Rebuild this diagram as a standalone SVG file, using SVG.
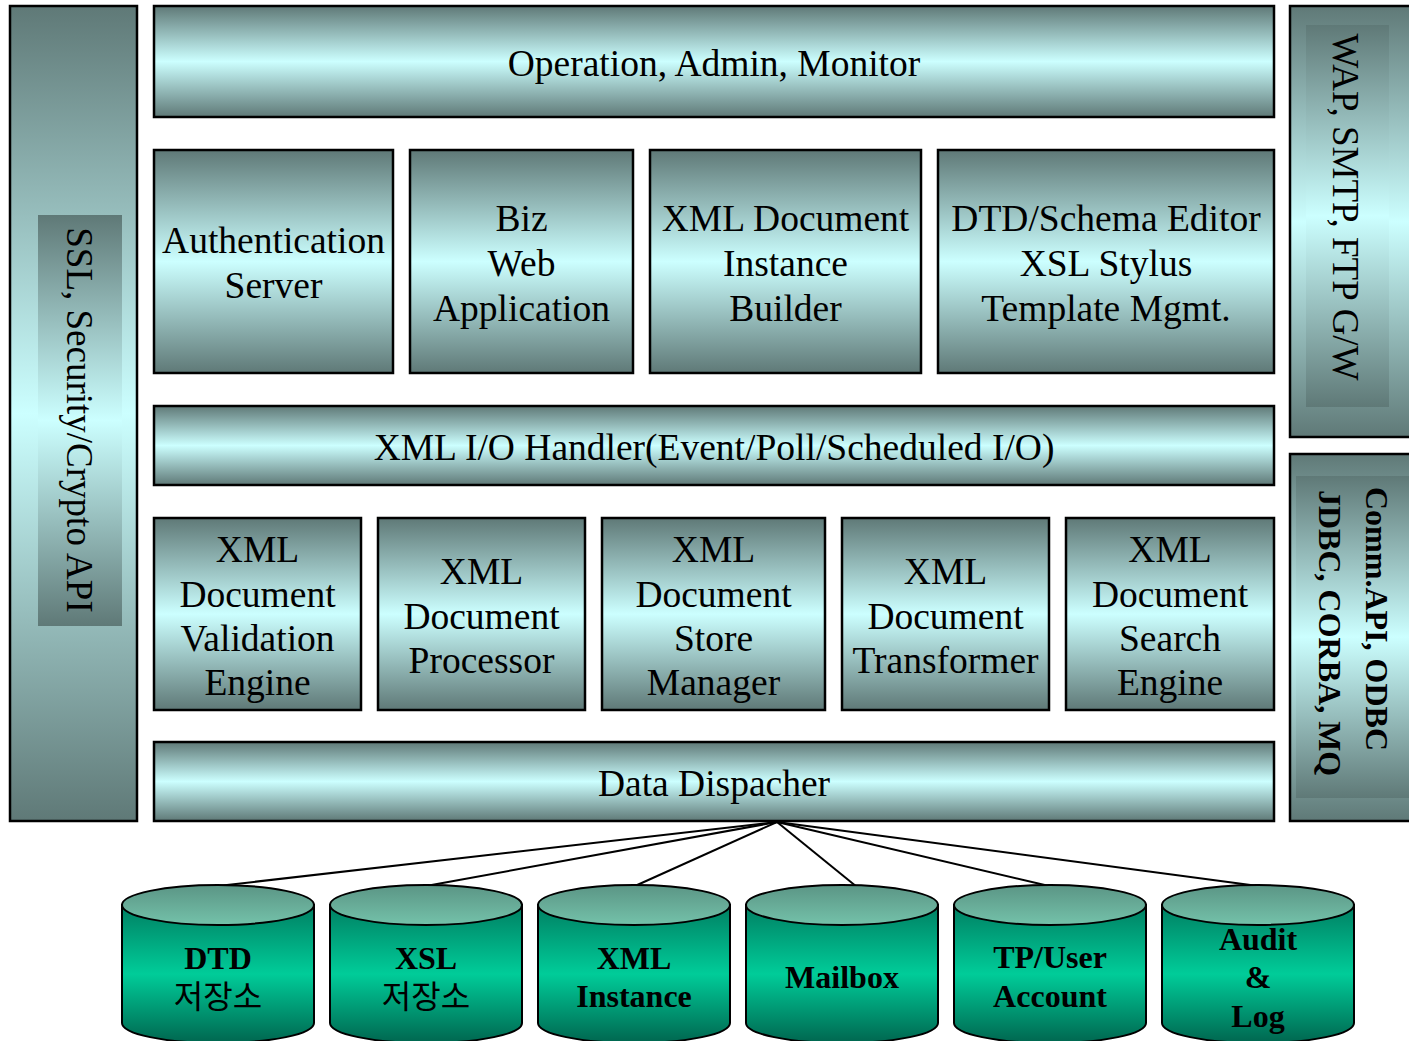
<svg xmlns="http://www.w3.org/2000/svg" width="1409" height="1041" viewBox="0 0 1409 1041">
<defs>
<linearGradient id="g" x1="0" y1="0" x2="0" y2="1">
<stop offset="0" stop-color="#5f7977"/>
<stop offset="0.5" stop-color="#ccffff"/>
<stop offset="1" stop-color="#5f7977"/>
</linearGradient>
<linearGradient id="cb" x1="0" y1="0" x2="0" y2="1">
<stop offset="0" stop-color="#007f62"/>
<stop offset="0.5" stop-color="#00cc99"/>
<stop offset="1" stop-color="#00664f"/>
</linearGradient>
<linearGradient id="ct" x1="0" y1="0" x2="0" y2="1">
<stop offset="0" stop-color="#5b9585"/>
<stop offset="1" stop-color="#74c2aa"/>
</linearGradient>
</defs>
<style>
.box{fill:url(#g);stroke:#000;stroke-width:2.5}
.inner{fill:url(#g);stroke:none}
.t{font-family:"Liberation Serif","Times New Roman",serif;font-size:37.5px;fill:#000;text-anchor:middle}
.cb{fill:url(#cb);stroke:#000;stroke-width:2}
.ct{fill:url(#ct);stroke:#000;stroke-width:2}
.ctx{font-family:"Liberation Serif","Times New Roman",serif;font-size:32px;font-weight:bold;fill:#000;text-anchor:middle}
.kr{font-family:"Noto Sans CJK KR",sans-serif;font-size:32px;font-weight:normal;fill:#000;text-anchor:middle}
.conn line{stroke:#000;stroke-width:2}
</style>
<rect width="1409" height="1041" fill="#fff"/>

<g id="connectors" class="conn">
<line x1="777" y1="822" x2="218" y2="886"/>
<line x1="777" y1="822" x2="426" y2="886"/>
<line x1="777" y1="822" x2="635" y2="886"/>
<line x1="777" y1="822" x2="857" y2="887"/>
<line x1="777" y1="822" x2="1049" y2="886"/>
<line x1="777" y1="822" x2="1258" y2="886"/>
</g>

<g id="ssl">
<rect class="box" x="10" y="6" width="127" height="815"/>
<rect class="inner" x="38" y="215" width="84" height="411"/>
<text class="t" style="font-size:37px" transform="translate(67,420) rotate(90)">SSL, Security/Crypto API</text>
</g>

<g id="operation">
<rect class="box" x="154" y="6" width="1120" height="111"/>
<text class="t" x="714" y="76">Operation, Admin, Monitor</text>
</g>

<g id="auth">
<rect class="box" x="154" y="150" width="239" height="223"/>
<text class="t" x="273.5" y="253">Authentication</text>
<text class="t" x="273.5" y="298">Server</text>
</g>

<g id="biz">
<rect class="box" x="410" y="150" width="223" height="223"/>
<text class="t" x="521.5" y="231">Biz</text>
<text class="t" x="521.5" y="276">Web</text>
<text class="t" x="521.5" y="321">Application</text>
</g>

<g id="builder">
<rect class="box" x="650" y="150" width="271" height="223"/>
<text class="t" x="785.5" y="231">XML Document</text>
<text class="t" x="785.5" y="276">Instance</text>
<text class="t" x="785.5" y="321">Builder</text>
</g>

<g id="editor">
<rect class="box" x="938" y="150" width="336" height="223"/>
<text class="t" x="1106" y="231">DTD/Schema Editor</text>
<text class="t" x="1106" y="276">XSL Stylus</text>
<text class="t" x="1106" y="321">Template Mgmt.</text>
</g>

<g id="iohandler">
<rect class="box" x="154" y="406" width="1120" height="79"/>
<text class="t" x="714" y="460">XML I/O Handler(Event/Poll/Scheduled I/O)</text>
</g>

<g id="validation">
<rect class="box" x="154" y="518" width="207" height="192"/>
<text class="t" x="257.5" y="562">XML</text>
<text class="t" x="257.5" y="607">Document</text>
<text class="t" x="257.5" y="651">Validation</text>
<text class="t" x="257.5" y="695">Engine</text>
</g>

<g id="processor">
<rect class="box" x="378" y="518" width="207" height="192"/>
<text class="t" x="481.5" y="584">XML</text>
<text class="t" x="481.5" y="629">Document</text>
<text class="t" x="481.5" y="673">Processor</text>
</g>

<g id="store">
<rect class="box" x="602" y="518" width="223" height="192"/>
<text class="t" x="713.5" y="562">XML</text>
<text class="t" x="713.5" y="607">Document</text>
<text class="t" x="713.5" y="651">Store</text>
<text class="t" x="713.5" y="695">Manager</text>
</g>

<g id="transformer">
<rect class="box" x="842" y="518" width="207" height="192"/>
<text class="t" x="945.5" y="584">XML</text>
<text class="t" x="945.5" y="629">Document</text>
<text class="t" x="945.5" y="673">Transformer</text>
</g>

<g id="search">
<rect class="box" x="1066" y="518" width="208" height="192"/>
<text class="t" x="1170" y="562">XML</text>
<text class="t" x="1170" y="607">Document</text>
<text class="t" x="1170" y="651">Search</text>
<text class="t" x="1170" y="695">Engine</text>
</g>

<g id="dispatcher">
<rect class="box" x="154" y="742" width="1120" height="79"/>
<text class="t" x="714" y="796">Data Dispacher</text>
</g>

<g id="wap">
<rect class="box" x="1290" y="6" width="130" height="431"/>
<rect class="inner" x="1306" y="25" width="83" height="382"/>
<text class="t" style="font-size:37px" transform="translate(1333,207) rotate(90)">WAP, SMTP, FTP G/W</text>
</g>

<g id="comm">
<rect class="box" x="1290" y="454" width="130" height="367"/>
<rect class="inner" x="1296" y="476" width="120" height="322"/>
<text class="t" style="font-size:32px;font-weight:bold;text-anchor:start" transform="translate(1366,487) rotate(90)">Comm.API, ODBC</text>
<text class="t" style="font-size:32px;font-weight:bold;text-anchor:start" transform="translate(1319,490) rotate(90)">JDBC, CORBA, MQ</text>
</g>

<g id="db-dtd">
<path class="cb" d="M122,905 L122,1023 A96,20 0 0 0 314,1023 L314,905 Z"/>
<ellipse class="ct" cx="218" cy="905" rx="96" ry="20"/>
<text class="ctx" x="218" y="969">DTD</text>
<text class="kr" x="218" y="1008">저장소</text>
</g>

<g id="db-xsl">
<path class="cb" d="M330,905 L330,1023 A96,20 0 0 0 522,1023 L522,905 Z"/>
<ellipse class="ct" cx="426" cy="905" rx="96" ry="20"/>
<text class="ctx" x="426" y="969">XSL</text>
<text class="kr" x="426" y="1008">저장소</text>
</g>

<g id="db-xml">
<path class="cb" d="M538,905 L538,1023 A96,20 0 0 0 730,1023 L730,905 Z"/>
<ellipse class="ct" cx="634" cy="905" rx="96" ry="20"/>
<text class="ctx" x="634" y="969">XML</text>
<text class="ctx" x="634" y="1007">Instance</text>
</g>

<g id="db-mailbox">
<path class="cb" d="M746,905 L746,1023 A96,20 0 0 0 938,1023 L938,905 Z"/>
<ellipse class="ct" cx="842" cy="905" rx="96" ry="20"/>
<text class="ctx" x="842" y="988">Mailbox</text>
</g>

<g id="db-account">
<path class="cb" d="M954,905 L954,1023 A96,20 0 0 0 1146,1023 L1146,905 Z"/>
<ellipse class="ct" cx="1050" cy="905" rx="96" ry="20"/>
<text class="ctx" x="1050" y="968">TP/User</text>
<text class="ctx" x="1050" y="1007">Account</text>
</g>

<g id="db-audit">
<path class="cb" d="M1162,905 L1162,1023 A96,20 0 0 0 1354,1023 L1354,905 Z"/>
<ellipse class="ct" cx="1258" cy="905" rx="96" ry="20"/>
<text class="ctx" x="1258" y="950">Audit</text>
<text class="ctx" x="1258" y="988">&amp;</text>
<text class="ctx" x="1258" y="1027">Log</text>
</g>
</svg>
